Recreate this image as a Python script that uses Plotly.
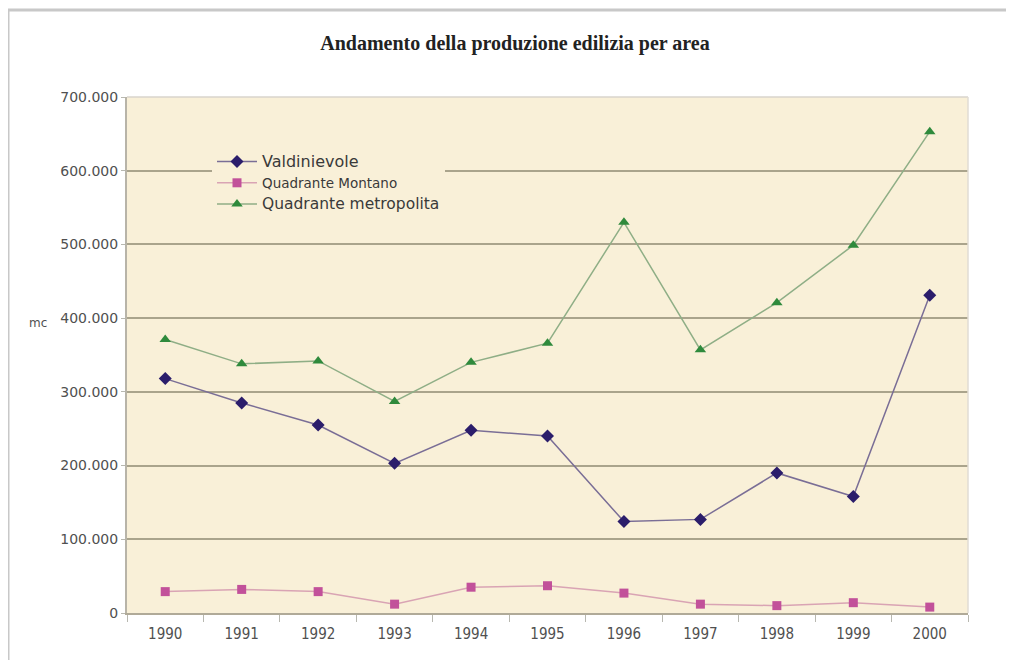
import plotly.graph_objects as go

years = ["1990", "1991", "1992", "1993", "1994", "1995", "1996", "1997", "1998", "1999", "2000"]
valdinievole = [318000, 285000, 255000, 203000, 248000, 240000, 124000, 127000, 190000, 158000, 431000]
montano = [29000, 32000, 29000, 12000, 35000, 37000, 27000, 12000, 10000, 14000, 8000]
metropolitano = [371000, 338000, 342000, 287000, 340000, 366000, 530000, 357000, 421000, 499000, 653000]
y_ticks = [0, 100000, 200000, 300000, 400000, 500000, 600000, 700000]

# page offset (body margin) compensation
OFF = 8
W, H = 1014 - OFF, 660 - OFF
L, R, T, B = 127 - OFF, 968 - OFF, 97 - OFF, 613 - OFF

def px(x):
    return (x - OFF - L) / (R - L)

def py(y):
    return (B - (y - OFF)) / (B - T)

fig = go.Figure()
fig.add_trace(go.Scatter(
    x=years, y=valdinievole, mode="lines+markers",
    name="<span style='font-size:16px'>Valdinievole</span>",
    line=dict(color="#7a6e96", width=1.5),
    marker=dict(symbol="diamond", size=10, color="#2b1d6b"),
))
fig.add_trace(go.Scatter(
    x=years, y=montano, mode="lines+markers",
    name="<span style='font-size:13.5px'>Quadrante Montano</span>",
    line=dict(color="#d9a4b4", width=1.5),
    marker=dict(symbol="square", size=9, color="#c2519a"),
))
fig.add_trace(go.Scatter(
    x=years, y=metropolitano, mode="lines+markers",
    name="<span style='font-size:15.5px'>Quadrante metropolita</span>",
    line=dict(color="#8fae86", width=1.5),
    marker=dict(symbol="triangle-up", size=10, color="#2f8a3c"),
))

fig.update_layout(
    width=W, height=H,
    margin=dict(l=L, r=W - R, t=T, b=H - B),
    paper_bgcolor="white",
    plot_bgcolor="#f9f0d8",
    separators=",.",
    font=dict(family="DejaVu Sans", size=13, color="#505050"),
    title=dict(
        text="<b>Andamento della produzione edilizia per area</b>",
        x=(515 - OFF) / W, xref="container", xanchor="center",
        y=1 - (43 - OFF) / H, yref="container", yanchor="middle",
        font=dict(family="Liberation Serif", size=20, color="#222222"),
    ),
    showlegend=True,
    legend=dict(
        x=px(212), y=py(146), xanchor="left", yanchor="top",
        bgcolor="#f9f0d8", borderwidth=0,
        font=dict(family="DejaVu Sans", size=14, color="#3a3a3a"),
        tracegroupgap=0, itemwidth=40,
    ),
    xaxis=dict(
        type="category", tickson="boundaries", ticks="outside", ticklen=7,
        tickcolor="#b8b8b0", showline=True, linecolor="#b0aa98", linewidth=2,
        showgrid=False, ticklabelstandoff=6,
        tickfont=dict(family="DejaVu Sans Condensed, Liberation Sans Narrow, DejaVu Sans",
                      size=15, color="#505050"),
        range=[-0.5, 10.5],
    ),
    yaxis=dict(
        range=[0, 700000], tickvals=y_ticks, tickformat=",d",
        ticks="outside", ticklen=4, tickcolor="#b8b8b0",
        showline=True, linecolor="#b8b4a8", linewidth=2,
        showgrid=True, gridcolor="#aaa48c", gridwidth=2,
        zeroline=False, ticklabelstandoff=0,
        tickfont=dict(size=14, color="#505050"),
    ),
)

# y-axis label "mc"
fig.add_annotation(
    text="mc", x=px(27), y=py(323), xref="paper", yref="paper",
    xanchor="left", showarrow=False, font=dict(size=12, color="#505050"),
)

# light top/right border of plot area
fig.add_shape(type="line", xref="paper", yref="paper",
              x0=0, x1=1, y0=1, y1=1, line=dict(color="#d8d4cc", width=1.5))
fig.add_shape(type="line", xref="paper", yref="paper",
              x0=1, x1=1, y0=0, y1=1, line=dict(color="#e0dcd4", width=1.5))

# outer frame (top and left)
fig.add_shape(type="line", xref="paper", yref="paper",
              x0=px(8), x1=px(1014), y0=py(10), y1=py(10),
              line=dict(color="#c8c8c8", width=3))
fig.add_shape(type="line", xref="paper", yref="paper",
              x0=px(8), x1=px(8), y0=py(10), y1=py(660),
              line=dict(color="#c8c8c8", width=3))

fig.write_html("out.html")
